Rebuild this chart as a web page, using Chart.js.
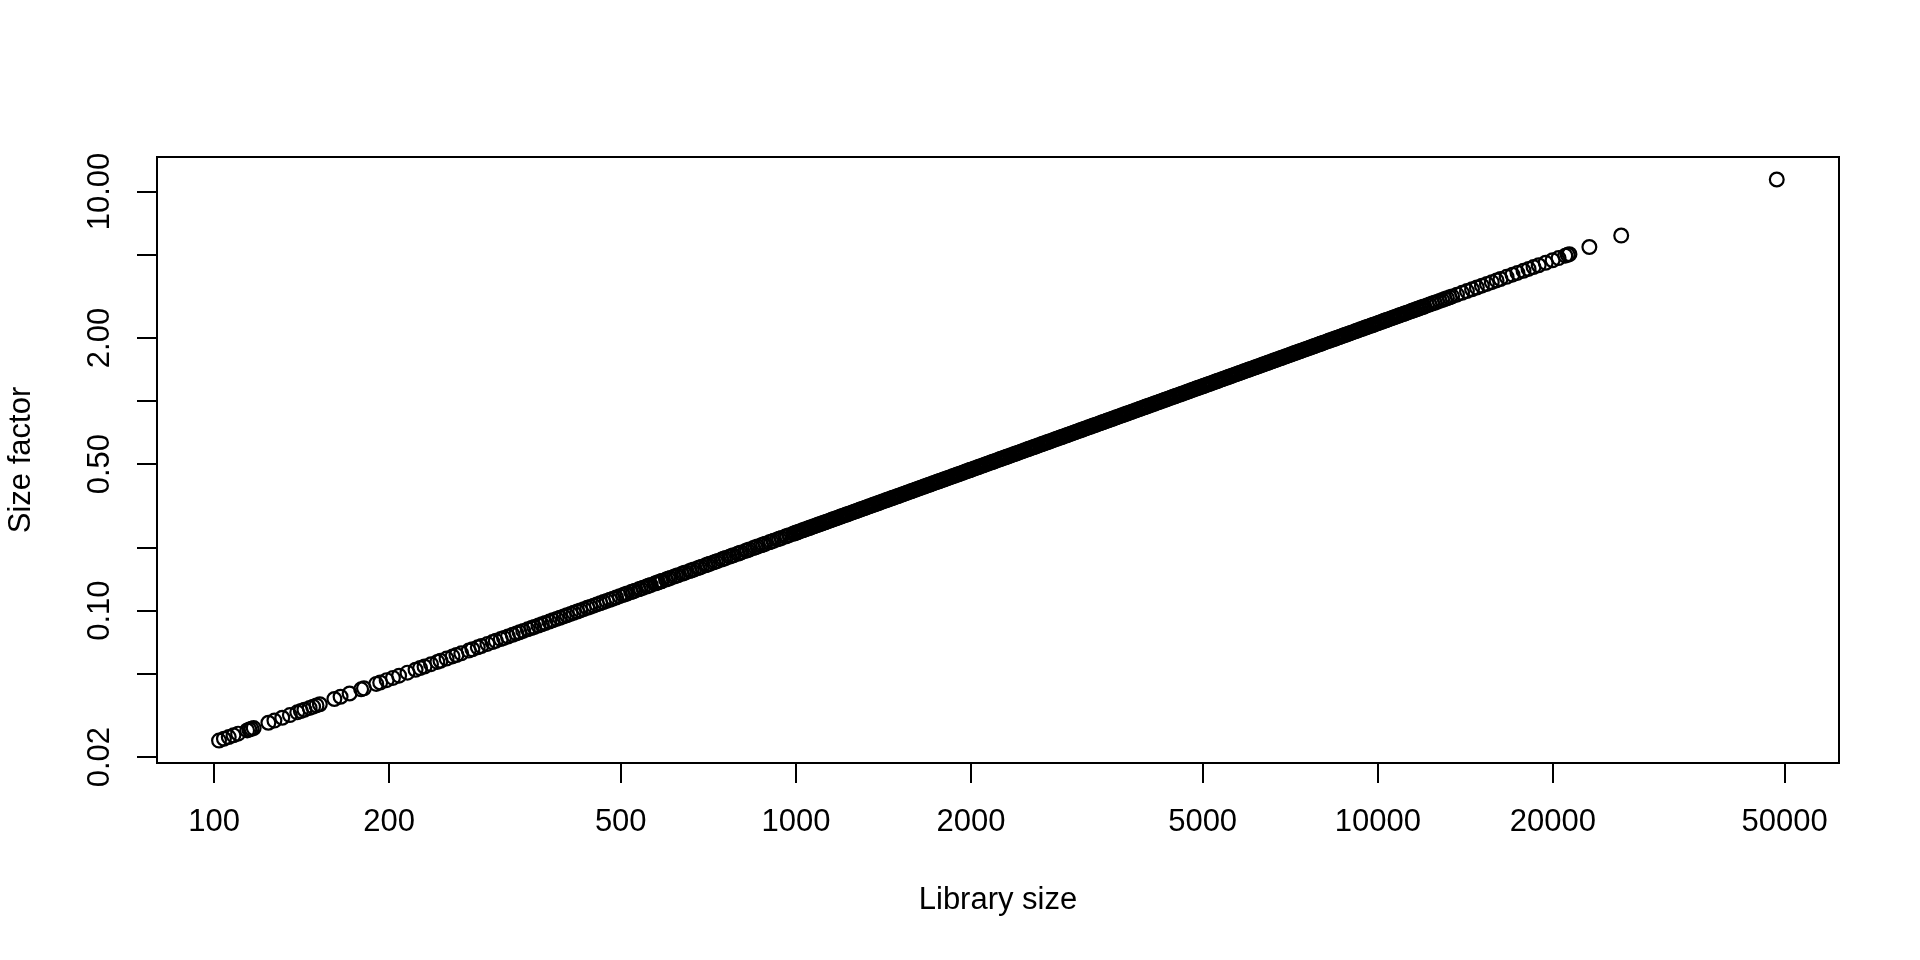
<!DOCTYPE html>
<html>
<head>
<meta charset="utf-8">
<script src="https://cdn.jsdelivr.net/npm/chart.js@4.4.1/dist/chart.umd.min.js"></script>
<style>
  html, body { margin: 0; padding: 0; background: #fff; }
  canvas { display: block; }
</style>
</head>
<body>
<canvas id="sfPlot" width="1920" height="960"></canvas>
<script>
// library size per cell (x) and its size factor (y)
var libSizes = [
  102, 104, 106, 108, 110,
  114, 115, 116, 117,
  124, 127, 131, 135, 139,
  141, 143, 146, 148, 150, 152,
  161, 165, 171, 179, 181,
  190, 193, 198, 203, 208,
  215, 222, 226, 230, 236,
  242, 245, 251, 257, 261,
  266, 274, 278, 284, 288,
  295, 301, 305, 311, 315,
  320, 326, 331, 335, 340,
  346, 351, 355, 361, 366,
  371, 377, 382, 388, 393,
  399, 404, 410, 415, 421,
  426, 432, 438, 443, 449,
  455, 461, 467, 473, 479,
  485, 491, 498,
  505, 513, 521, 529, 537, 546, 554, 563, 572, 580, 585, 589, 598, 608, 617,
  627, 637, 647, 657, 668, 678, 689, 700, 711, 722, 734, 745, 757, 769, 781,
  794, 806, 819, 832, 845, 859, 872, 886, 900, 915, 929, 944, 959, 974, 989,
  1000, 1012, 1027, 1039, 1054, 1066, 1081, 1094, 1110, 1123, 1139, 1152, 1168, 1184, 1198, 1215, 1229, 1247,
  1261, 1279, 1294, 1313, 1328, 1347, 1363, 1383, 1399, 1419, 1436, 1456, 1473, 1494, 1512, 1533, 1551, 1573,
  1592, 1614, 1634, 1657, 1677, 1700, 1721, 1745, 1766, 1790, 1812, 1837, 1859, 1885, 1908, 1934, 1958, 1985,
  2000, 2024, 2054, 2078, 2108, 2132, 2162, 2188, 2220, 2246, 2278, 2304, 2336, 2368, 2396, 2430, 2458, 2494,
  2522, 2558, 2588, 2626, 2656, 2694, 2726, 2766, 2798, 2838, 2872, 2912, 2946, 2988, 3024, 3066, 3102, 3146,
  3184, 3228, 3268, 3314, 3354, 3400, 3442, 3490, 3532, 3580, 3624, 3674, 3718, 3770, 3816, 3868, 3916, 3970,
  4000, 4048, 4108, 4156, 4216, 4264, 4324, 4376, 4440, 4492, 4556, 4608, 4672, 4736, 4792, 4860, 4916, 4988,
  5044, 5116, 5176, 5252, 5312, 5388, 5452, 5532, 5596, 5676, 5744, 5824, 5892, 5976, 6048, 6132, 6204, 6292,
  6368, 6456, 6536, 6628, 6708, 6800, 6884, 6980, 7064, 7160, 7248, 7348, 7436, 7540, 7632, 7736, 7832, 7940,
  8000, 8096, 8216, 8312, 8432, 8528, 8648, 8752, 8880, 8984, 9112, 9216, 9344, 9472, 9584, 9720,
  9832, 9976, 10088, 10232, 10352, 10504, 10624, 10776, 10904, 11064, 11192, 11352, 11488, 11648, 11784, 11952,
  12150, 12400, 12640, 12900, 13150, 13420, 13680, 13960, 14230, 14520, 14800, 15100, 15400, 15700, 16000,
  16250, 16650, 17040, 17380, 17800, 18160, 18520, 18900, 19430, 19970, 20450, 21000, 21200, 21350,
  23100, 26200, 48490,
  // cells lying in between, where the band is solid
  509, 525, 541, 558, 576, 587, 603, 622, 642, 662, 683, 705,
  728, 751, 775, 800, 825, 852, 879, 907, 936, 966, 995,
  1006, 1020, 1032, 1047, 1059, 1074, 1088, 1101, 1117, 1130, 1146, 1159, 1176, 1191, 1206, 1222, 1237, 1254,
  1270, 1286, 1303, 1321, 1337, 1355, 1372, 1390, 1408, 1428, 1445, 1464, 1483, 1502, 1522, 1541, 1562, 1582,
  1603, 1623, 1645, 1666, 1688, 1710, 1733, 1755, 1777, 1800, 1824, 1848, 1871, 1896, 1920, 1946, 1971, 1993,
  2012, 2040, 2064, 2094, 2118, 2148, 2176, 2202, 2234, 2260, 2292, 2318, 2352, 2382, 2412, 2444, 2474, 2508,
  2540, 2572, 2606, 2642, 2674, 2710, 2744, 2780, 2816, 2856, 2890, 2928, 2966, 3004, 3044, 3082, 3124, 3164,
  3206, 3246, 3290, 3332, 3376, 3420, 3466, 3510, 3554, 3600, 3648, 3696, 3742, 3792, 3840, 3892, 3942, 3986,
  4024, 4080, 4128, 4188, 4236, 4296, 4352, 4404, 4468, 4520, 4584, 4636, 4704, 4764, 4824, 4888, 4948, 5016,
  5080, 5144, 5212, 5284, 5348, 5420, 5488, 5560, 5632, 5712, 5780, 5856, 5932, 6008, 6088, 6164, 6248, 6328,
  6412, 6492, 6580, 6664, 6752, 6840, 6932, 7020, 7108, 7200, 7296, 7392, 7484, 7584, 7680, 7784, 7884, 7972,
  8048, 8160, 8256, 8376, 8472, 8592, 8704, 8808, 8936, 9040, 9168, 9272, 9408, 9528, 9648, 9776,
  9896, 10032, 10160, 10288, 10424, 10568, 10696, 10840, 10976, 11120, 11264, 11424, 11560, 11712, 11864, 12016,
  12270, 12520, 12770, 13030, 13290
];

var sizeFactors = [
  0.02400, 0.02447, 0.02494, 0.02541, 0.02588,
  0.02682, 0.02706, 0.02729, 0.02753,
  0.02918, 0.02988, 0.03082, 0.03176, 0.03271,
  0.03318, 0.03365, 0.03435, 0.03482, 0.03529, 0.03576,
  0.03788, 0.03882, 0.04024, 0.04212, 0.04259,
  0.04471, 0.04541, 0.04659, 0.04776, 0.04894,
  0.05059, 0.05224, 0.05318, 0.05412, 0.05553,
  0.05694, 0.05765, 0.05906, 0.06047, 0.06141,
  0.06259, 0.06447, 0.06541, 0.06682, 0.06776,
  0.06941, 0.07082, 0.07176, 0.07318, 0.07412,
  0.07529, 0.07671, 0.07788, 0.07882, 0.08000,
  0.08141, 0.08259, 0.08353, 0.08494, 0.08612,
  0.08729, 0.08871, 0.08988, 0.09129, 0.09247,
  0.09388, 0.09506, 0.09647, 0.09765, 0.09906,
  0.1002, 0.1016, 0.1031, 0.1042, 0.1056,
  0.1071, 0.1085, 0.1099, 0.1113, 0.1127,
  0.1141, 0.1155, 0.1172,
  0.1188, 0.1207, 0.1226, 0.1245, 0.1264, 0.1285, 0.1304, 0.1325, 0.1346, 0.1365, 0.1376, 0.1386, 0.1407, 0.1431, 0.1452,
  0.1475, 0.1499, 0.1522, 0.1546, 0.1572, 0.1595, 0.1621, 0.1647, 0.1673, 0.1699, 0.1727, 0.1753, 0.1781, 0.1809, 0.1838,
  0.1868, 0.1896, 0.1927, 0.1958, 0.1988, 0.2021, 0.2052, 0.2085, 0.2118, 0.2153, 0.2186, 0.2221, 0.2256, 0.2292, 0.2327,
  0.2353, 0.2381, 0.2416, 0.2445, 0.2480, 0.2508, 0.2544, 0.2574, 0.2612, 0.2642, 0.2680, 0.2711, 0.2748, 0.2786, 0.2819, 0.2859, 0.2892, 0.2934,
  0.2967, 0.3009, 0.3045, 0.3089, 0.3125, 0.3169, 0.3207, 0.3254, 0.3292, 0.3339, 0.3379, 0.3426, 0.3466, 0.3515, 0.3558, 0.3607, 0.3649, 0.3701,
  0.3746, 0.3798, 0.3845, 0.3899, 0.3946, 0.4000, 0.4049, 0.4106, 0.4155, 0.4212, 0.4264, 0.4322, 0.4374, 0.4435, 0.4489, 0.4551, 0.4607, 0.4671,
  0.4706, 0.4762, 0.4833, 0.4889, 0.4960, 0.5016, 0.5087, 0.5148, 0.5224, 0.5285, 0.5360, 0.5421, 0.5496, 0.5572, 0.5638, 0.5718, 0.5784, 0.5868,
  0.5934, 0.6019, 0.6089, 0.6179, 0.6249, 0.6339, 0.6414, 0.6508, 0.6584, 0.6678, 0.6758, 0.6852, 0.6932, 0.7031, 0.7115, 0.7214, 0.7299, 0.7402,
  0.7492, 0.7595, 0.7689, 0.7798, 0.7892, 0.8000, 0.8099, 0.8212, 0.8311, 0.8424, 0.8527, 0.8645, 0.8748, 0.8871, 0.8979, 0.9101, 0.9214, 0.9341,
  0.9412, 0.9525, 0.9666, 0.9779, 0.992, 1.003, 1.017, 1.030, 1.045, 1.057, 1.072, 1.084, 1.099, 1.114, 1.128, 1.144, 1.157, 1.174,
  1.187, 1.204, 1.218, 1.236, 1.250, 1.268, 1.283, 1.302, 1.317, 1.336, 1.352, 1.370, 1.386, 1.406, 1.423, 1.443, 1.460, 1.480,
  1.498, 1.519, 1.538, 1.560, 1.578, 1.600, 1.620, 1.642, 1.662, 1.685, 1.705, 1.729, 1.750, 1.774, 1.796, 1.820, 1.843, 1.868,
  1.882, 1.905, 1.933, 1.956, 1.984, 2.007, 2.035, 2.059, 2.089, 2.114, 2.144, 2.168, 2.199, 2.229, 2.255, 2.287,
  2.313, 2.347, 2.374, 2.408, 2.436, 2.472, 2.500, 2.536, 2.566, 2.603, 2.633, 2.671, 2.703, 2.741, 2.773, 2.812,
  2.859, 2.918, 2.974, 3.035, 3.094, 3.158, 3.219, 3.285, 3.348, 3.416, 3.482, 3.553, 3.624, 3.694, 3.765,
  3.824, 3.918, 4.009, 4.089, 4.188, 4.273, 4.358, 4.447, 4.572, 4.699, 4.812, 4.941, 4.988, 5.024,
  5.435, 6.165, 11.41,
  // cells lying in between, where the band is solid
  0.1198, 0.1235, 0.1273, 0.1313, 0.1355, 0.1381, 0.1419, 0.1464, 0.1511, 0.1558, 0.1607, 0.1659,
  0.1713, 0.1767, 0.1824, 0.1882, 0.1941, 0.2005, 0.2068, 0.2134, 0.2202, 0.2273, 0.2341,
  0.2367, 0.2400, 0.2428, 0.2464, 0.2492, 0.2527, 0.2560, 0.2591, 0.2628, 0.2659, 0.2696, 0.2727, 0.2767, 0.2802, 0.2838, 0.2875, 0.2911, 0.2951,
  0.2988, 0.3026, 0.3066, 0.3108, 0.3146, 0.3188, 0.3228, 0.3271, 0.3313, 0.3360, 0.3400, 0.3445, 0.3489, 0.3534, 0.3581, 0.3626, 0.3675, 0.3722,
  0.3772, 0.3819, 0.3871, 0.3920, 0.3972, 0.4024, 0.4078, 0.4129, 0.4181, 0.4235, 0.4292, 0.4348, 0.4402, 0.4461, 0.4518, 0.4579, 0.4638, 0.4689,
  0.4734, 0.4800, 0.4856, 0.4927, 0.4984, 0.5054, 0.5120, 0.5181, 0.5256, 0.5318, 0.5393, 0.5454, 0.5534, 0.5605, 0.5675, 0.5751, 0.5821, 0.5901,
  0.5976, 0.6052, 0.6132, 0.6216, 0.6292, 0.6376, 0.6456, 0.6541, 0.6626, 0.6720, 0.6800, 0.6889, 0.6979, 0.7068, 0.7162, 0.7252, 0.7351, 0.7445,
  0.7544, 0.7638, 0.7741, 0.7840, 0.7944, 0.8047, 0.8155, 0.8259, 0.8362, 0.8471, 0.8584, 0.8696, 0.8805, 0.8922, 0.9035, 0.9158, 0.9275, 0.9379,
  0.9468, 0.9600, 0.9713, 0.9854, 0.9967, 1.011, 1.024, 1.036, 1.051, 1.064, 1.079, 1.091, 1.107, 1.121, 1.135, 1.150, 1.164, 1.180,
  1.195, 1.210, 1.226, 1.243, 1.258, 1.275, 1.291, 1.308, 1.325, 1.344, 1.360, 1.378, 1.396, 1.414, 1.432, 1.450, 1.470, 1.489,
  1.509, 1.528, 1.548, 1.568, 1.589, 1.609, 1.631, 1.652, 1.672, 1.694, 1.717, 1.739, 1.761, 1.784, 1.807, 1.832, 1.855, 1.876,
  1.894, 1.920, 1.943, 1.971, 1.993, 2.022, 2.048, 2.072, 2.103, 2.127, 2.157, 2.182, 2.214, 2.242, 2.270, 2.300,
  2.328, 2.360, 2.391, 2.421, 2.453, 2.487, 2.517, 2.551, 2.583, 2.616, 2.650, 2.688, 2.720, 2.756, 2.792, 2.827,
  2.887, 2.946, 3.005, 3.066, 3.127
];

var xTickValues = [100, 200, 500, 1000, 2000, 5000, 10000, 20000, 50000];
var yTickValues = [0.02, 0.05, 0.1, 0.2, 0.5, 1, 2, 5, 10];
// R leaves out the labels that would overlap
var yTickLabels = ['0.02', '', '0.10', '', '0.50', '', '2.00', '', '10.00'];

var points = libSizes.map(function (v, i) {
  return { x: v, y: sizeFactors[i] };
});

var font = { family: '"Liberation Sans", Arial, Helvetica, sans-serif', size: 31 };

// R draws a full box round the plot region
var boxPlugin = {
  id: 'plotBox',
  afterDraw: function (chart) {
    var a = chart.chartArea;
    var ctx = chart.ctx;
    ctx.save();
    ctx.strokeStyle = '#000';
    ctx.lineWidth = 2;
    ctx.strokeRect(a.left, a.top, a.right - a.left, a.bottom - a.top);
    ctx.restore();
  }
};

var ctx = document.getElementById('sfPlot');
var chart = new Chart(ctx, {
  type: 'scatter',
  data: {
    datasets: [{
      data: points,
      pointStyle: 'circle',
      pointRadius: 6.9,
      pointBorderWidth: 2.2,
      borderColor: '#000',
      backgroundColor: 'rgba(0,0,0,0)',
      pointHoverRadius: 6.9
    }]
  },
  options: {
    responsive: false,
    animation: false,
    devicePixelRatio: 1,
    events: [],
    layout: { padding: { left: 0, top: 157, right: 81, bottom: 0 } },
    plugins: {
      legend: { display: false },
      tooltip: { enabled: false }
    },
    scales: {
      x: {
        type: 'logarithmic',
        position: 'bottom',
        min: 79.8,
        max: 62030,
        afterBuildTicks: function (s) {
          s.ticks = xTickValues.map(function (v) { return { value: v }; });
        },
        afterFit: function (s) { s.height = 960 - 763; },
        ticks: {
          autoSkip: false,
          maxRotation: 0,
          minRotation: 0,
          padding: 21,
          color: '#000',
          font: font,
          callback: function (v) { return String(v); }
        },
        grid: { drawOnChartArea: false, drawTicks: true, tickLength: 20, color: '#000', lineWidth: 2 },
        border: { display: false },
        title: { display: true, text: 'Library size', color: '#000', font: font, padding: { top: 0, bottom: 41 } }
      },
      y: {
        type: 'logarithmic',
        position: 'left',
        min: 0.01875,
        max: 14.61,
        afterBuildTicks: function (s) {
          s.ticks = yTickValues.map(function (v) { return { value: v }; });
        },
        afterFit: function (s) { s.width = 157; },
        ticks: {
          autoSkip: false,
          minRotation: 90,
          maxRotation: 90,
          crossAlign: 'center',
          padding: -2,
          color: '#000',
          font: font,
          callback: function (v) {
            var i = yTickValues.indexOf(v);
            return i < 0 ? '' : yTickLabels[i];
          }
        },
        grid: { drawOnChartArea: false, drawTicks: true, tickLength: 20, color: '#000', lineWidth: 2 },
        border: { display: false },
        title: { display: true, text: 'Size factor', color: '#000', font: font, padding: { top: 3, bottom: 0 } }
      }
    }
  },
  plugins: [boxPlugin]
});
</script>
</body>
</html>
